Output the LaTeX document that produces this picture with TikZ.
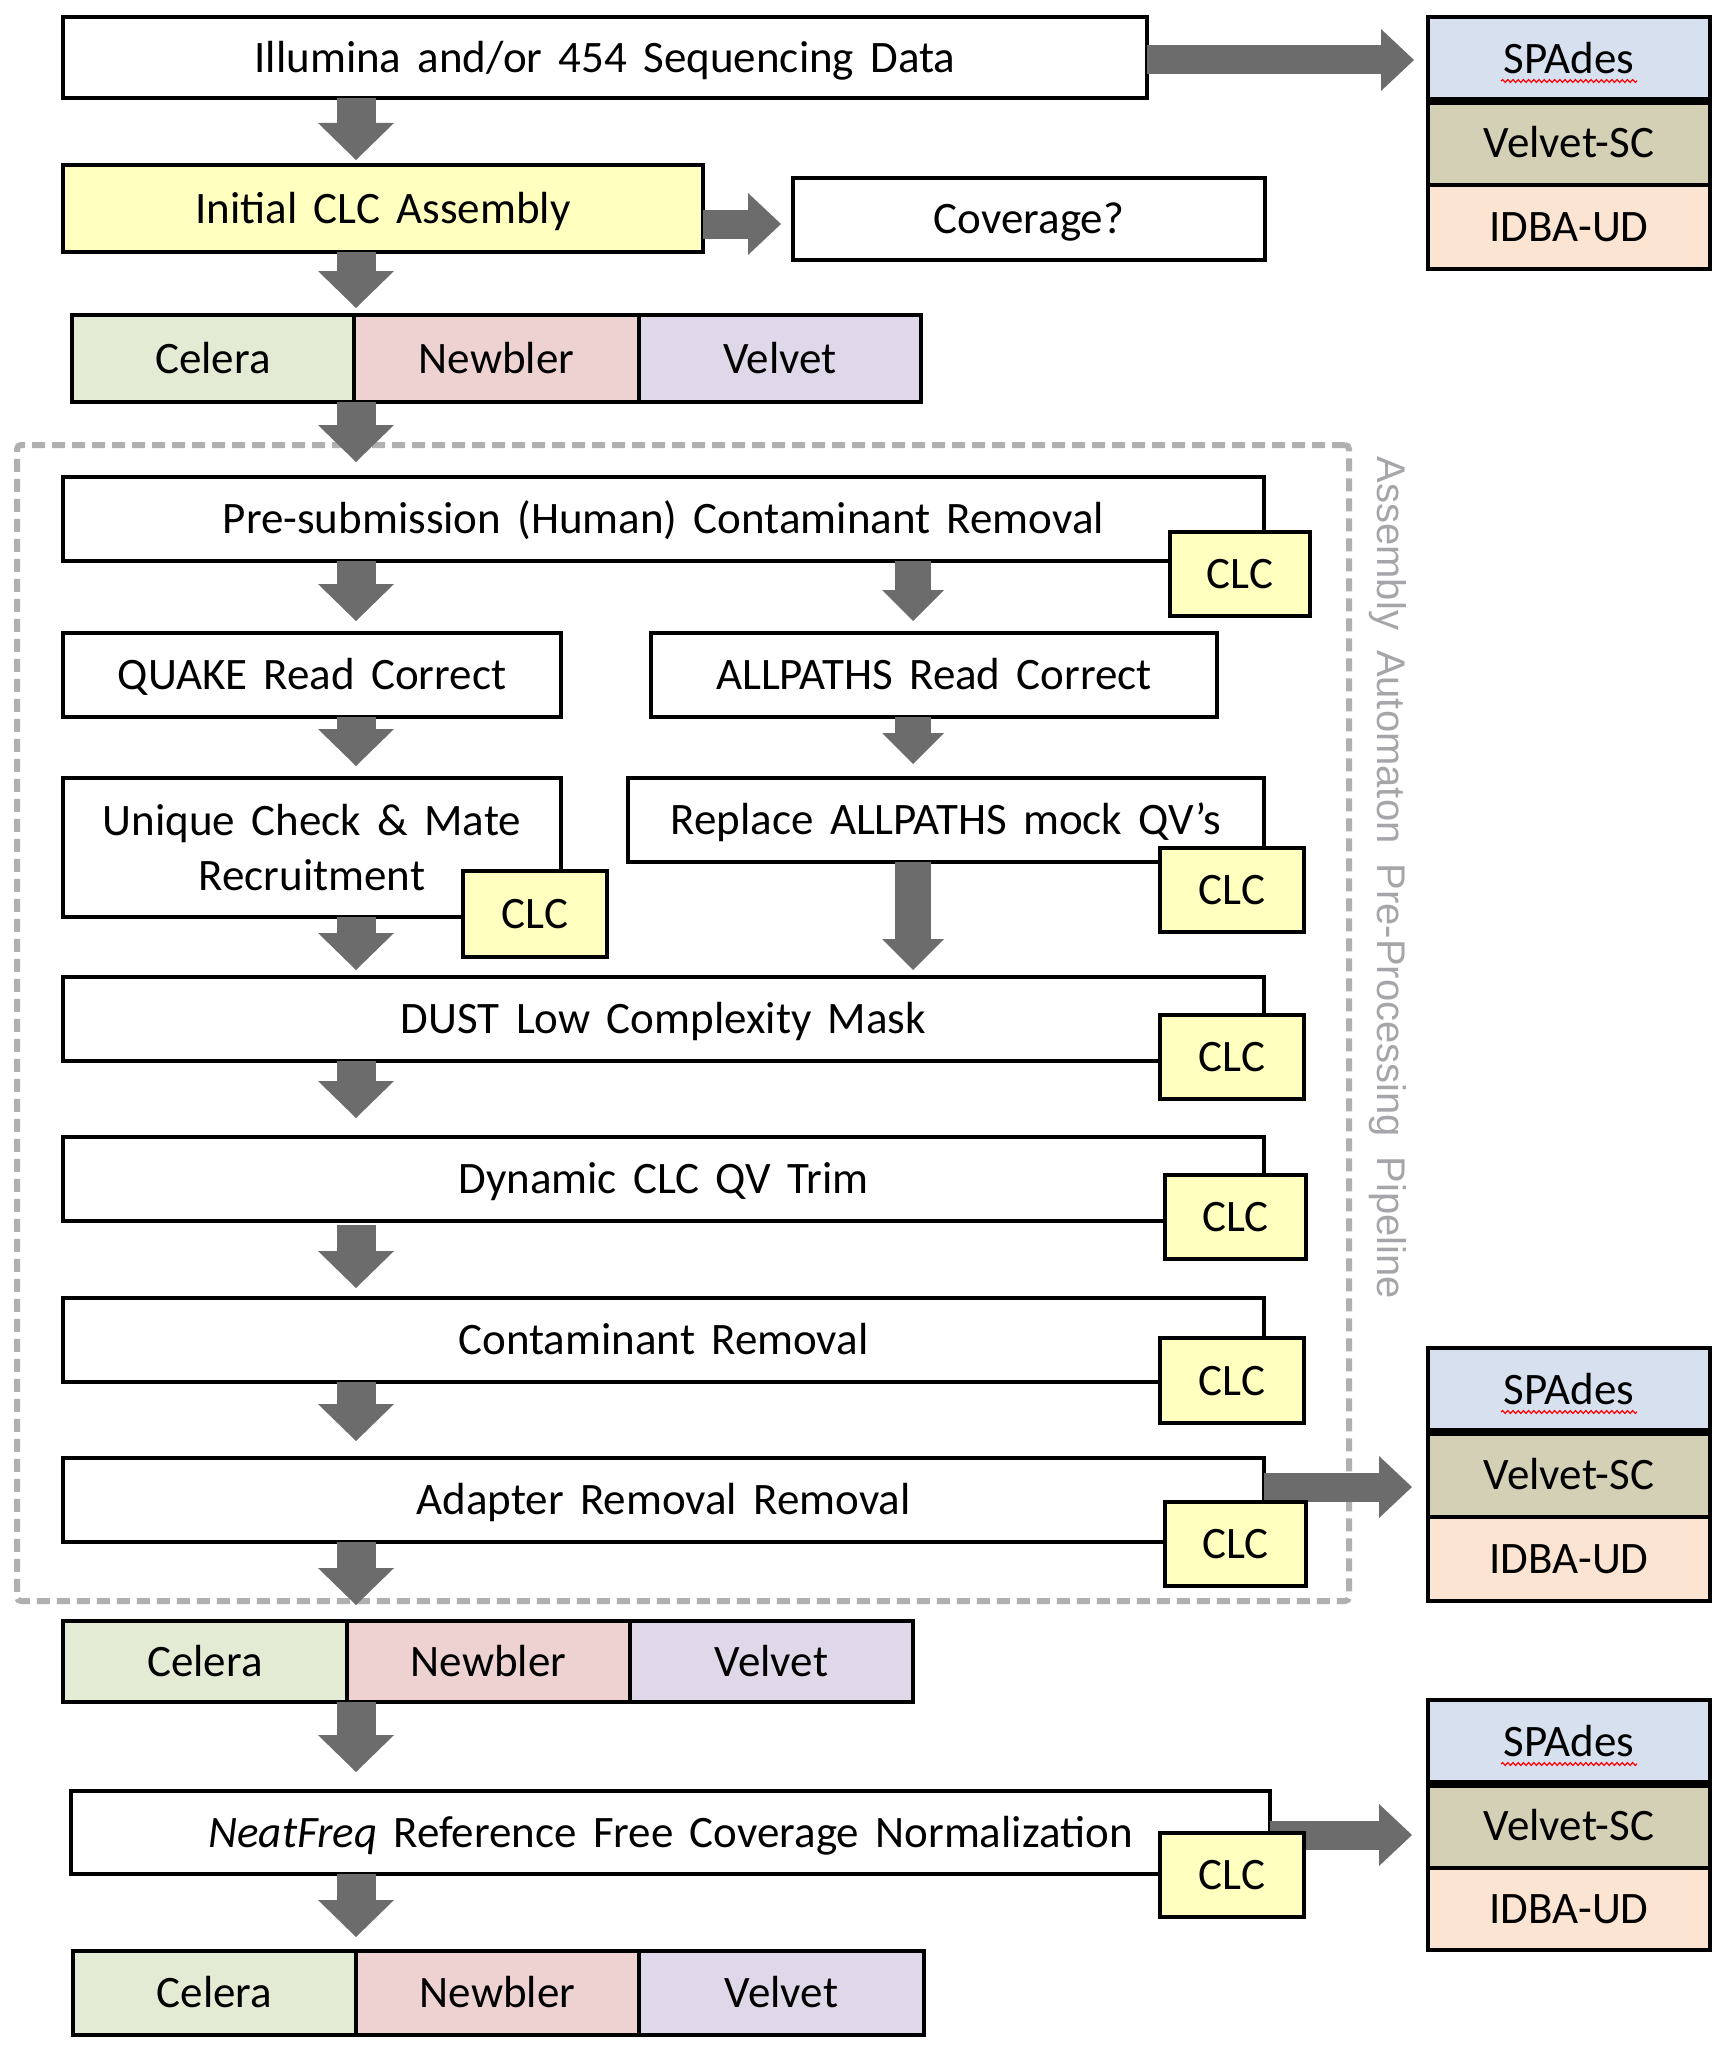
\documentclass[tikz,border=0pt]{standalone}
\usepackage{fontspec}
\setmainfont{Carlito}[WordSpace=1.6]
\newfontfamily\arialfont{Liberation Sans}[WordSpace=1.8]
\usetikzlibrary{arrows.meta,decorations.pathmorphing,calc}
\definecolor{arrowgray}{RGB}{108,108,108}
\definecolor{dashgray}{RGB}{176,176,176}
\definecolor{labelgray}{RGB}{166,166,170}
\definecolor{clcyellow}{RGB}{255,255,192}
\definecolor{celera}{RGB}{228,235,212}
\definecolor{newbler}{RGB}{238,210,210}
\definecolor{velvet}{RGB}{223,216,232}
\definecolor{spades}{RGB}{214,224,238}
\definecolor{velsc}{RGB}{212,208,182}
\definecolor{idba}{RGB}{252,228,210}
\newcommand\mkbox[7]{\node[#2, minimum width={(#5-#3)*0.5pt}, minimum height={(#6-#4)*0.5pt}] (#1) at ({(#3+#5)/2},{(#4+#6)/2}) {#7};}
\begin{document}
\begin{tikzpicture}[x=0.5pt,y=-0.5pt,
  box/.style={draw=black, line width=2.2pt, rectangle, inner sep=0pt, outer sep=0pt, align=center, font=\fontsize{22.5}{27.5}\selectfont, text height=14.6pt, text depth=0pt},
  multibox/.style={box, text height=, text depth=},
  clc/.style={box, fill=clcyellow},
  dashbox/.style={draw=dashgray, line width=3pt, dash pattern=on 6.5pt off 3.5pt, rounded corners=2pt, rectangle, inner sep=0pt, outer sep=0pt},
  bigarr/.style={draw=arrowgray, line width=19.5pt, -{Triangle[length=18.5pt,width=38pt,line width=0pt]}},
  smallarr/.style={draw=arrowgray, line width=18pt, -{Triangle[length=15.5pt,width=31pt,line width=0pt]}},
  harr/.style={draw=arrowgray, line width=14.5pt, -{Triangle[length=16.5pt,width=31pt,line width=0pt]}},
  squig/.style={draw=red, line width=0.6pt, decorate, decoration={snake,amplitude=0.7pt,segment length=2.6pt}}
]
\useasboundingbox (0,0) rectangle (1727,2055);

% dashed pipeline frame
\mkbox{pipe}{dashbox}{17}{445}{1349}{1601}{}
\node[rotate=-90, font=\arialfont\fontsize{20}{24}\selectfont, text=labelgray, inner sep=0pt] (lbl) at (1388,878) {Assembly Automaton Pre-Processing Pipeline};

% column coordinates
\coordinate (colL) at (356,0);
\coordinate (colR) at (913,0);
\coordinate (yP) at (0,60);
\coordinate (yQ) at (0,224);
\coordinate (yR) at (0,1487);
\coordinate (yS) at (0,1835);

% top part
\mkbox{ill}{box}{63}{17}{1147}{98}{Illumina and/or 454 Sequencing Data}
\mkbox{init}{box,fill=clcyellow}{63}{165}{703}{252}{Initial CLC Assembly}
\mkbox{cov}{box}{793}{178}{1265}{260}{Coverage?}
\mkbox{ce1}{box,fill=celera}{72}{315}{354}{402}{Celera}
\mkbox{nb1}{box,fill=newbler}{354}{315}{639}{402}{Newbler}
\mkbox{ve1}{box,fill=velvet}{639}{315}{921}{402}{Velvet}

% assembler columns
\mkbox{sp1}{box,fill=spades}{1428}{17}{1710}{101}{SPAdes}
\mkbox{vs1}{box,fill=velsc}{1428}{101}{1710}{185}{Velvet-SC}
\mkbox{id1}{box,fill=idba}{1428}{185}{1710}{269}{IDBA-UD}
\mkbox{sp2}{box,fill=spades}{1428}{1348}{1710}{1432}{SPAdes}
\mkbox{vs2}{box,fill=velsc}{1428}{1432}{1710}{1517}{Velvet-SC}
\mkbox{id2}{box,fill=idba}{1428}{1517}{1710}{1601}{IDBA-UD}
\mkbox{sp3}{box,fill=spades}{1428}{1700}{1710}{1784}{SPAdes}
\mkbox{vs3}{box,fill=velsc}{1428}{1784}{1710}{1868}{Velvet-SC}
\mkbox{id3}{box,fill=idba}{1428}{1868}{1710}{1950}{IDBA-UD}
\foreach \s in {sp1,sp2,sp3}{
  \draw[line width=4pt] (\s.south west) -- (\s.south east);
  \draw[squig] ($(\s.center)+(-68,22)$) -- ($(\s.center)+(68,22)$);
}

% pipeline
\mkbox{pre}{box}{63}{477}{1264}{561}{Pre-submission (Human) Contaminant Removal}
\mkbox{quake}{box}{63}{633}{561}{717}{QUAKE Read Correct}
\mkbox{allp}{box}{651}{633}{1217}{717}{ALLPATHS Read Correct}
\mkbox{uniq}{multibox}{63}{778}{561}{917}{Unique Check \& Mate\\Recruitment}
\mkbox{repl}{box}{628}{778}{1264}{862}{Replace ALLPATHS mock QV’s}
\mkbox{dust}{box}{63}{977}{1264}{1061}{DUST Low Complexity Mask}
\mkbox{dyn}{box}{63}{1137}{1264}{1221}{Dynamic CLC QV Trim}
\mkbox{cont}{box}{63}{1298}{1264}{1382}{Contaminant Removal}
\mkbox{adap}{box}{63}{1458}{1264}{1542}{Adapter Removal Removal}

% lower part
\mkbox{ce2}{box,fill=celera}{63}{1621}{347}{1702}{Celera}
\mkbox{nb2}{box,fill=newbler}{347}{1621}{630}{1702}{Newbler}
\mkbox{ve2}{box,fill=velvet}{630}{1621}{913}{1702}{Velvet}
\mkbox{neat}{box}{71}{1791}{1270}{1874}{\textit{NeatFreq} Reference Free Coverage Normalization}
\mkbox{ce3}{box,fill=celera}{73}{1951}{356}{2035}{Celera}
\mkbox{nb3}{box,fill=newbler}{356}{1951}{639}{2035}{Newbler}
\mkbox{ve3}{box,fill=velvet}{639}{1951}{924}{2035}{Velvet}

% arrows
\draw[bigarr, shorten >=2.5pt] (ill.south -| colL) -- (init.north -| colL);
\draw[bigarr, shorten >=3.5pt] (init.south -| colL) -- (ce1.north -| colL);
\draw[bigarr, shorten >=7.5pt] (ce1.south -| colL) -- (pre.north -| colL);
\draw[bigarr, shorten >=6pt] (pre.south -| colL) -- (quake.north -| colL);
\draw[smallarr, shorten >=6pt] (pre.south -| colR) -- (allp.north -| colR);
\draw[bigarr, shorten >=6pt] (quake.south -| colL) -- (uniq.north -| colL);
\draw[smallarr, shorten >=7pt] (allp.south -| colR) -- (repl.north -| colR);
\draw[bigarr, shorten >=3.5pt] (uniq.south -| colL) -- (dust.north -| colL);
\draw[smallarr, shorten >=3.5pt] (repl.south -| colR) -- (dust.north -| colR);
\draw[bigarr, shorten >=9.5pt] (dust.south -| colL) -- (dyn.north -| colL);
\draw[bigarr, shorten <=2pt, shorten >=5pt] (dyn.south -| colL) -- (cont.north -| colL);
\draw[bigarr, shorten >=8.5pt] (cont.south -| colL) -- (adap.north -| colL);
\draw[bigarr, shorten >=8pt] (adap.south -| colL) -- (ce2.north -| colL);
\draw[bigarr, shorten >=9.5pt] (ce2.south -| colL) -- (neat.north -| colL);
\draw[bigarr, shorten >=7pt] (neat.south -| colL) -- (ce3.north -| colL);

\draw[harr, shorten >=7pt] (ill.east |- yP) -- (sp1.west |- yP);
\draw[harr, shorten >=6pt] (init.east |- yQ) -- (cov.west |- yQ);
\draw[harr, shorten >=8pt] (adap.east |- yR) -- (vs2.west |- yR);
\draw[harr, shorten >=8pt] (neat.east |- yS) -- (vs3.west |- yS);

% CLC tags
\mkbox{clc1}{clc}{1170}{532}{1310}{616}{CLC}
\mkbox{clc2}{clc}{463}{871}{607}{957}{CLC}
\mkbox{clc3}{clc}{1160}{848}{1304}{932}{CLC}
\mkbox{clc4}{clc}{1160}{1015}{1304}{1099}{CLC}
\mkbox{clc5}{clc}{1165}{1175}{1306}{1259}{CLC}
\mkbox{clc6}{clc}{1160}{1338}{1304}{1423}{CLC}
\mkbox{clc7}{clc}{1165}{1502}{1306}{1586}{CLC}
\mkbox{clc8}{clc}{1160}{1833}{1304}{1917}{CLC}
\end{tikzpicture}
\end{document}
